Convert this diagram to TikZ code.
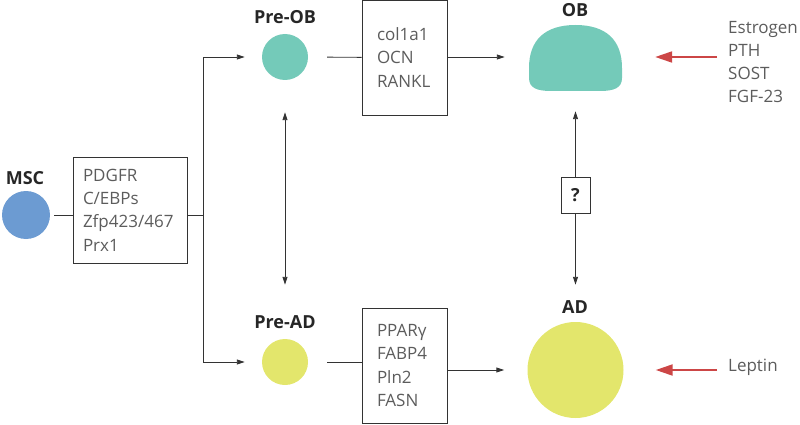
\documentclass[tikz,border=0pt]{standalone}
\usepackage{fontspec}
\setmainfont{Open Sans}
\usetikzlibrary{arrows.meta}
\definecolor{mscblue}{HTML}{6C9BD2}
\definecolor{obteal}{HTML}{74CAB9}
\definecolor{adyellow}{HTML}{E3E66C}
\definecolor{cuered}{HTML}{CC4646}
\definecolor{genegray}{HTML}{5C5C5C}
\def\conncolor{black!80}
\def\connwidth{0.9pt}
\def\genesize{\fontsize{17}{23.3}\selectfont}
\def\tagsize{\fontsize{18}{22}\selectfont}
\tikzset{
	% cell names
	tag/.style={
		font=\tagsize\bfseries,
		text=black!85,
		inner sep=0pt,
	},
	% cells
	cell/.style={
		shape=circle,
		draw=none,
		inner sep=0pt,
	},
	% marker boxes
	genebox/.style={
		shape=rectangle,
		draw=\conncolor,
		line width=\connwidth,
		font=\genesize,
		text=genegray,
		align=left,
		inner ysep=0pt,
	},
	% factors
	factors/.style={
		font=\genesize,
		text=genegray,
		align=left,
		anchor=west,
		inner sep=0pt,
	},
	% connections
	link/.style={
		draw=\conncolor,
		line width=\connwidth,
	},
	arrow/.style={
		link,
		-{Stealth[length=8pt,width=5pt,inset=0pt]},
	},
	twoway/.style={
		link,
		{Stealth[length=8pt,width=5pt,inset=0pt]}-{Stealth[length=8pt,width=5pt,inset=0pt]},
	},
	cue/.style={
		draw=cuered,
		line width=2pt,
		-{Stealth[length=17pt,width=11pt,inset=0pt]},
	}
}
\begin{document}
\begin{tikzpicture}[x=1pt,y=-1pt]
	\useasboundingbox (0,0) rectangle (800,425);
	%
	% stem cell
	\node[cell, fill=mscblue, minimum size=48] (msc) at (26,215) {};
	\node[tag] (msctag) at (25,178) {MSC};
	\node[genebox, text width=94, inner xsep=10, minimum height=106] (mscgenes) at (130,210)
		{PDGFR\\C/EBPs\\Zfp423/467\\Prx1};
	\coordinate (split) at (203,215);
	%
	% precursors
	\node[cell, fill=obteal, minimum size=46] (preob) at (285,57) {};
	\node[tag] (preobtag) at (285,17) {Pre-OB};
	\node[cell, fill=adyellow, minimum size=46] (pread) at (285,362) {};
	\node[tag] (preadtag) at (285,322) {Pre-AD};
	%
	\node[genebox, text width=55, inner xsep=15, minimum height=115] (obgenes) at (404.5,57.5)
		{col1a1\\OCN\\RANKL};
	\node[genebox, text width=55, inner xsep=15, minimum height=115] (adgenes) at (404.5,365.5)
		{PPARγ\\FABP4\\Pln2\\FASN};
	%
	% mature cells
	\node[minimum width=93, minimum height=66, inner sep=0pt] (ob) at (575.5,58) {};
	\fill[obteal] (529,78) -- (529,68) .. controls (529,40) and (545,25) .. (575.5,25)
		.. controls (606,25) and (622,40) .. (622,68)
		-- (622,78) .. controls (622,88) and (614,91) .. (600,91)
		-- (551,91) .. controls (537,91) and (529,88) .. (529,78) -- cycle;
	\node[tag] (obtag) at (575,10) {OB};
	\node[cell, fill=adyellow, minimum size=96] (ad) at (575.5,370) {};
	\node[tag] (adtag) at (575,307) {AD};
	\node[genebox, font=\tagsize\bfseries, text=black!85, inner sep=0pt,
		minimum width=29, minimum height=36] (query) at (575.5,195) {?};
	%
	% regulators
	\node[factors] (obfactors) at (728,62) {Estrogen\\PTH\\SOST\\FGF-23};
	\node[factors] (adfactors) at (728,367) {Leptin};
	%
	% connections
	\draw[link, shorten <=4pt] (msc) -- (msc -| mscgenes.west);
	\draw[link] (mscgenes.east |- split) -- (split);
	\draw[arrow, shorten >=17pt] (split) |- (preob);
	\draw[arrow, shorten >=17pt] (split) |- (pread);
	\draw[twoway, shorten <=32pt, shorten >=54pt] (preob) -- (pread);
	\draw[link, shorten <=19pt] (preob) -- (obgenes);
	\draw[link, shorten <=19pt] (pread) -- (pread -| adgenes.west);
	\draw[arrow, shorten >=24pt] (obgenes.east |- preob) -- (preob -| ob.west);
	\draw[arrow, shorten >=23pt] (adgenes.east |- ad) -- (ad);
	\draw[arrow, shorten >=20pt] (query) -- (ob);
	\draw[arrow, shorten >=37pt] (query) -- (ad);
	\draw[cue, shorten <=11pt, shorten >=33pt] (obfactors.west |- preob) -- (preob -| ob.east);
	\draw[cue, shorten <=11pt, shorten >=32pt] (adfactors.west |- ad) -- (ad);
\end{tikzpicture}
\end{document}
